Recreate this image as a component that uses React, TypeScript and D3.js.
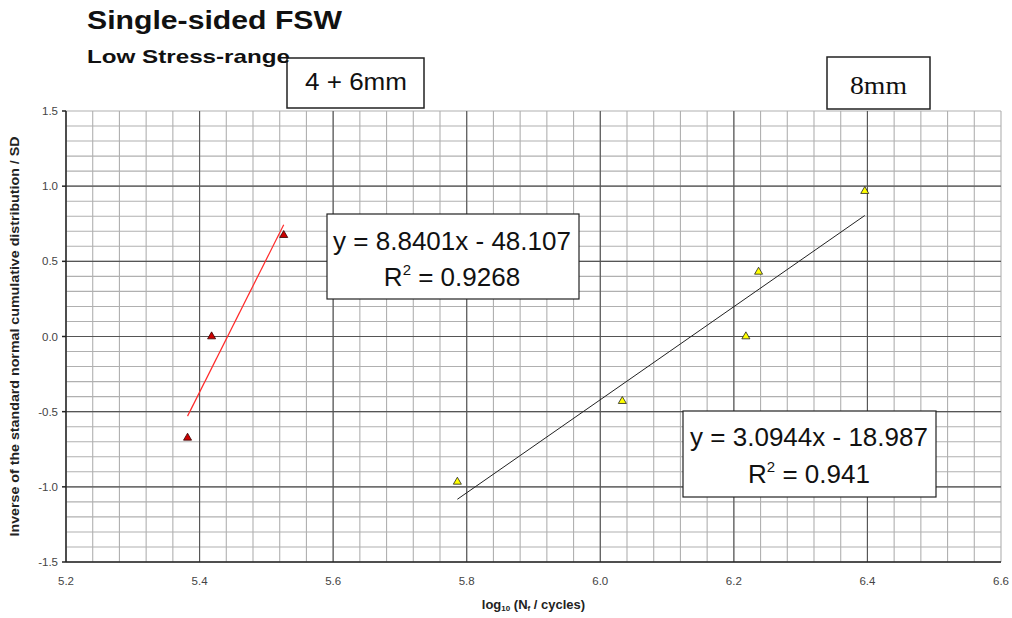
import * as d3 from "d3";

// 4 + 6mm series (red)
const thinX = [5.382, 5.418, 5.526];
const thinY = [-0.674, 0.0, 0.674];
// 8mm series (yellow)
const thickX = [5.786, 6.033, 6.218, 6.237, 6.396];
const thickY = [-0.967, -0.43, 0.0, 0.43, 0.967];

const thinFit = { slope: 8.8401, intercept: -48.107, r2: "0.9268" };
const thickFit = { slope: 3.0944, intercept: -18.987, r2: "0.941" };

const xTicks = [5.2, 5.4, 5.6, 5.8, 6.0, 6.2, 6.4, 6.6];
const yTicks = [-1.5, -1.0, -0.5, 0.0, 0.5, 1.0, 1.5];

const W = 1012;
const H = 618;
const sans = "'Liberation Sans', Arial, sans-serif";
const serif = "'Liberation Serif', 'Times New Roman', serif";

export default function App() {
  const x = d3.scaleLinear().domain([5.2, 6.6]).range([66, 1001]);
  const y = d3.scaleLinear().domain([-1.5, 1.5]).range([562, 111]);

  const xMinor = d3.range(0, 36).map((i) => 5.2 + i * 0.04);
  const yMinor = d3.range(0, 31).map((i) => -1.5 + i * 0.1);

  const tri = d3.symbol().type(d3.symbolTriangle).size(28);

  const fitLine = (xs: number[], f: { slope: number; intercept: number }) => {
    const x0 = d3.min(xs) as number;
    const x1 = d3.max(xs) as number;
    return d3.line<number>()
      .x((d) => x(d))
      .y((d) => y(f.slope * d + f.intercept))([x0, x1]) as string;
  };

  return (
    <svg
      width={W}
      height={H}
      style={{ position: "absolute", left: 0, top: 0, background: "#fff" }}
    >
      {/* minor grid */}
      <g stroke="#b0b0b0" strokeWidth={1.1}>
        {xMinor.map((v, i) => (
          <line key={"xm" + i} x1={x(v)} x2={x(v)} y1={y(-1.5)} y2={y(1.5)} />
        ))}
        {yMinor.map((v, i) => (
          <line key={"ym" + i} x1={x(5.2)} x2={x(6.6)} y1={y(v)} y2={y(v)} />
        ))}
      </g>
      {/* major grid */}
      <g stroke="#555" strokeWidth={1.1}>
        {xTicks.slice(1, -1).map((v) => (
          <line key={"xM" + v} x1={x(v)} x2={x(v)} y1={y(-1.5)} y2={y(1.5)} />
        ))}
        {yTicks.slice(1, -1).map((v) => (
          <line key={"yM" + v} x1={x(5.2)} x2={x(6.6)} y1={y(v)} y2={y(v)} />
        ))}
      </g>
      {/* axes */}
      <g stroke="#222" strokeWidth={1.5}>
        <line x1={x(5.2)} x2={x(5.2)} y1={y(-1.5)} y2={y(1.5)} />
        <line x1={x(5.2)} x2={x(6.6)} y1={y(-1.5)} y2={y(-1.5)} />
        {yTicks.map((v) => (
          <line key={"yt" + v} x1={x(5.2) - 4} x2={x(5.2)} y1={y(v)} y2={y(v)} />
        ))}
      </g>
      <g fontFamily={sans} fontSize={11.5} fill="#444">
        {yTicks.map((v) => (
          <text key={"yl" + v} x={x(5.2) - 8} y={y(v) + 4} textAnchor="end">
            {v.toFixed(1)}
          </text>
        ))}
        {xTicks.map((v) => (
          <text key={"xl" + v} x={x(v)} y={585} textAnchor="middle">
            {v.toFixed(1)}
          </text>
        ))}
      </g>

      {/* trend lines */}
      <path d={fitLine(thinX, thinFit)} stroke="#ff2a2a" strokeWidth={1.2} fill="none" />
      <path d={fitLine(thickX, thickFit)} stroke="#222" strokeWidth={1} fill="none" />

      {/* points */}
      {thinX.map((v, i) => (
        <path
          key={"r" + i}
          d={tri() as string}
          transform={`translate(${x(v)},${y(thinY[i])})`}
          fill="#cc0000"
          stroke="#330000"
          strokeWidth={0.8}
        />
      ))}
      {thickX.map((v, i) => (
        <path
          key={"k" + i}
          d={tri() as string}
          transform={`translate(${x(v)},${y(thickY[i])})`}
          fill="#ffff00"
          stroke="#222"
          strokeWidth={0.8}
        />
      ))}

      {/* equation boxes */}
      <g fontFamily={sans} fontSize={26} fill="#111">
        <rect x={327} y={214} width={252} height={85} fill="#fff" stroke="#222" strokeWidth={1.2} />
        <text x={452} y={250} textAnchor="middle">
          y = {thinFit.slope.toFixed(4)}x - {Math.abs(thinFit.intercept).toFixed(3)}
        </text>
        <text x={452} y={286} textAnchor="middle">
          R<tspan fontSize={15} dy={-11}>2</tspan>
          <tspan dy={11}> = {thinFit.r2}</tspan>
        </text>

        <rect x={683} y={411} width={253} height={86} fill="#fff" stroke="#222" strokeWidth={1.2} />
        <text x={809} y={446} textAnchor="middle">
          y = {thickFit.slope.toFixed(4)}x - {Math.abs(thickFit.intercept).toFixed(3)}
        </text>
        <text x={809} y={483} textAnchor="middle">
          R<tspan fontSize={15} dy={-11}>2</tspan>
          <tspan dy={11}> = {thickFit.r2}</tspan>
        </text>
      </g>

      {/* series labels */}
      <rect x={287} y={58} width={137} height={50} fill="#fff" stroke="#222" strokeWidth={1.5} />
      <text
        x={305}
        y={90}
        fontFamily={sans}
        fontSize={23}
        fill="#111"
        textLength={102}
        lengthAdjust="spacingAndGlyphs"
      >
        4 + 6mm
      </text>
      <rect x={827} y={57} width={103} height={52} fill="#fff" stroke="#222" strokeWidth={1.5} />
      <text
        x={850}
        y={94}
        fontFamily={serif}
        fontSize={26}
        fill="#111"
        textLength={57}
        lengthAdjust="spacingAndGlyphs"
      >
        8mm
      </text>

      {/* titles */}
      <text
        x={87}
        y={29}
        fontFamily={sans}
        fontSize={26}
        fontWeight="bold"
        fill="#111"
        textLength={255}
        lengthAdjust="spacingAndGlyphs"
      >
        Single-sided FSW
      </text>
      <text
        x={87}
        y={63}
        fontFamily={sans}
        fontSize={19}
        fontWeight="bold"
        fill="#111"
        textLength={203}
        lengthAdjust="spacingAndGlyphs"
      >
        Low Stress-range
      </text>

      <text
        transform={`translate(19,${(y(1.5) + y(-1.5)) / 2}) rotate(-90)`}
        textAnchor="middle"
        fontFamily={sans}
        fontSize={12}
        fontWeight="bold"
        fill="#222"
        textLength={400}
        lengthAdjust="spacingAndGlyphs"
      >
        Inverse of the standard normal cumulative distribution / SD
      </text>
      <text
        x={(x(5.2) + x(6.6)) / 2}
        y={609}
        textAnchor="middle"
        fontFamily={sans}
        fontSize={13}
        fontWeight="bold"
        fill="#222"
      >
        log<tspan fontSize={8} dy={2}>10</tspan>
        <tspan dy={-2}> (N</tspan>
        <tspan fontSize={8} dy={2}>f</tspan>
        <tspan dy={-2}> / cycles)</tspan>
      </text>
    </svg>
  );
}
